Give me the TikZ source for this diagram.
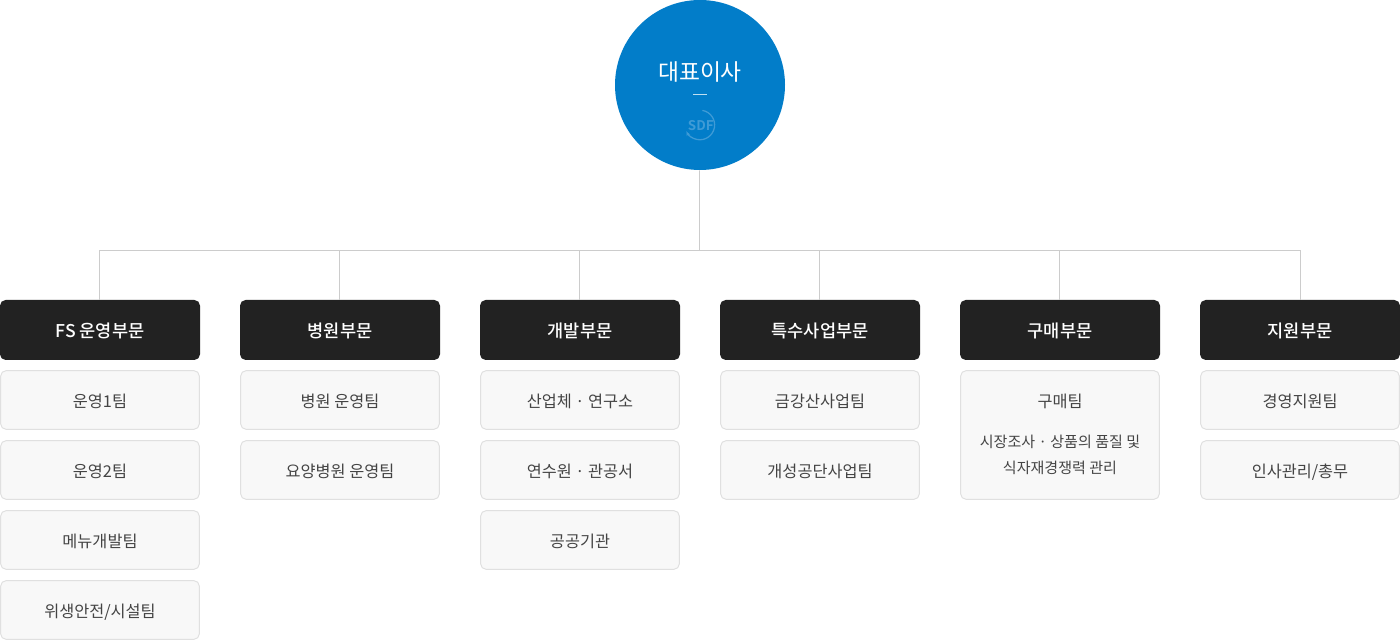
\documentclass[tikz,border=0pt]{standalone}
\usepackage{fontspec}
\setmainfont{Noto Sans CJK KR}
\newfontfamily\krmed{Noto Sans CJK KR Medium}
\newfontfamily\krbold{Noto Sans CJK KR Bold}
\usepackage{tikz}
\usetikzlibrary{arrows.meta, positioning}
\definecolor{ceoblue}{HTML}{027DC9}
\definecolor{logoblue}{HTML}{3F9BD6}
\definecolor{headblack}{HTML}{222222}
\definecolor{itemfill}{HTML}{F8F8F8}
\definecolor{itemline}{HTML}{E0E0E0}
\definecolor{itemtext}{HTML}{444444}
\definecolor{linegray}{HTML}{CCCCCC}

\begin{document}
\begin{tikzpicture}[
    head/.style={fill=headblack, text=white, rounded corners=4pt, minimum width=5cm,
                 minimum height=1.5cm, align=center, inner sep=0pt,
                 text height=11.4pt, text depth=1.2pt,
                 font=\krmed\fontsize{12.5}{14}\selectfont},
    item/.style={draw=itemline, line width=0.7pt, fill=itemfill, text=itemtext, rounded corners=4pt,
                 minimum width=4.97cm, minimum height=1.47cm, align=center, inner sep=0pt,
                 text height=11.3pt, text depth=1.1pt,
                 font=\fontsize{11.6}{14}\selectfont},
    conn/.style={draw=linegray, line width=0.7pt},
  ]
    \useasboundingbox (0,0) rectangle (35,16);

    % Top circle
    \node[circle, fill=ceoblue, minimum size=4.25cm, inner sep=0pt] (ceo) at (17.5,13.875) {};
    \node[text=white, font=\fontsize{16.2}{20}\selectfont, inner sep=0pt] (ceotxt) at (17.5,14.2) {대표이사};
    \coordinate (dashl) at (17.33,13.65);
    \coordinate (dashr) at (17.67,13.65);
    \draw[white!75!ceoblue, line width=0.6pt] (dashl) -- (dashr);
    \node[text=logoblue, font=\krbold\fontsize{9.5}{10}\selectfont, inner sep=0pt] (sdf) at (17.52,12.87) {SDF};
    \draw[logoblue, line width=0.9pt, -{Stealth[length=1.2mm]}]
          (17.56,13.24) arc[start angle=80, end angle=-155, radius=0.37cm];

    % Division heads
    \node[head] (fs)  at (2.5,7.75)  {FS 운영부문};
    \node[head] (hos) at (8.5,7.75)  {병원부문};
    \node[head] (dev) at (14.5,7.75) {개발부문};
    \node[head] (spc) at (20.5,7.75) {특수사업부문};
    \node[head] (buy) at (26.5,7.75) {구매부문};
    \node[head] (sup) at (32.5,7.75) {지원부문};

    % Teams
    \node[item] (fs1) at (2.5,6)    {운영1팀};
    \node[item] (fs2) at (2.5,4.25) {운영2팀};
    \node[item] (fs3) at (2.5,2.5)  {메뉴개발팀};
    \node[item] (fs4) at (2.5,0.75) {위생안전/시설팀};
    \node[item] (hos1) at (8.5,6)    {병원 운영팀};
    \node[item] (hos2) at (8.5,4.25) {요양병원 운영팀};
    \node[item] (dev1) at (14.5,6)    {산업체 · 연구소};
    \node[item] (dev2) at (14.5,4.25) {연수원 · 관공서};
    \node[item] (dev3) at (14.5,2.5)  {공공기관};
    \node[item] (spc1) at (20.5,6)    {금강산사업팀};
    \node[item] (spc2) at (20.5,4.25) {개성공단사업팀};
    \node[item, minimum height=3.22cm, text height=0pt, text depth=0pt] (buy1) at (26.5,5.125) {};
    \node[text=itemtext, font=\fontsize{11.6}{14}\selectfont, inner sep=0pt] (buytxt) at (26.5,5.975) {구매팀};
    \node[text=itemtext, align=center, inner sep=0pt, font=\fontsize{10.7}{18.5}\selectfont] (buynote) at (26.5,4.625)
      {시장조사 · 상품의 품질 및\\식자재경쟁력 관리};
    \node[item] (sup1) at (32.5,6)    {경영지원팀};
    \node[item] (sup2) at (32.5,4.25) {인사관리/총무};

    % Connections
    \coordinate (bus) at (17.4875,9.7375);
    \draw[conn] ([xshift=-.0125cm]ceo.south) -- (bus);
    \draw[conn] ([xshift=-.0125cm]fs.north) |- (bus) -| (sup.north);
    \draw[conn] ([xshift=-.0125cm]hos.north) -- ([xshift=-.0125cm]hos.north |- bus);
    \draw[conn] ([xshift=-.0125cm]dev.north) -- ([xshift=-.0125cm]dev.north |- bus);
    \draw[conn] ([xshift=-.0125cm]spc.north) -- ([xshift=-.0125cm]spc.north |- bus);
    \draw[conn] ([xshift=-.0125cm]buy.north) -- ([xshift=-.0125cm]buy.north |- bus);
\end{tikzpicture}
\end{document}
